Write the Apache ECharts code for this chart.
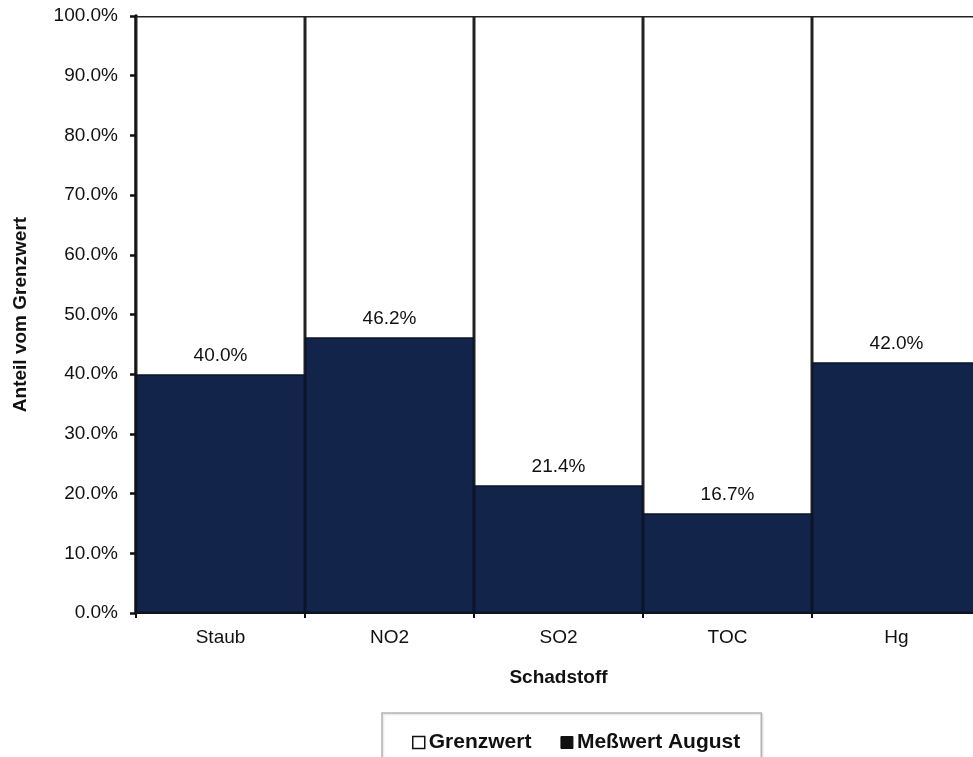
<!DOCTYPE html>
<html>
<head>
<meta charset="utf-8">
<script src="https://cdn.jsdelivr.net/npm/echarts@6/dist/echarts.min.js"></script>
<style>
html,body{margin:0;padding:0;background:#fff;}
#chart{width:973px;height:757px;}
</style>
</head>
<body>
<div id="chart"></div>
<script>
const categories = ['Staub', 'NO2', 'SO2', 'TOC', 'Hg'];
const grenzwert = [100, 100, 100, 100, 100];
const messwertAugust = [40.0, 46.2, 21.4, 16.7, 42.0];
const yTicks = { min: 0, max: 100, interval: 10 };

const FONT = '"Liberation Sans", Arial, sans-serif';
const chart = echarts.init(document.getElementById('chart'));
chart.setOption({
  animation: false,
  backgroundColor: '#fff',
  textStyle: { fontFamily: FONT },
  grid: { left: 136, top: 16, width: 845, height: 597, containLabel: false, outerBoundsMode: 'none' },
  legend: {
    left: 382, top: 713,
    padding: [19, 21, 30, 30],
    itemWidth: 12, itemHeight: 12, itemGap: 29,
    borderColor: '#b5b5b5', borderWidth: 1.5,
    shadowColor: 'rgba(0,0,0,0.15)', shadowBlur: 2, shadowOffsetX: 1, shadowOffsetY: 1,
    backgroundColor: '#fff',
    icon: 'rect',
    textStyle: { fontFamily: FONT, fontSize: 21, fontWeight: 'bold', color: '#111', padding: [0, 0, 0, -1] },
    data: [
      { name: 'Grenzwert', itemStyle: { color: '#fff', borderColor: '#111', borderWidth: 1.5 } },
      { name: 'Meßwert August', itemStyle: { color: '#111', borderColor: '#111', borderWidth: 1 } }
    ]
  },
  xAxis: {
    type: 'category',
    data: categories,
    name: 'Schadstoff',
    nameLocation: 'middle',
    nameGap: 55,
    nameTextStyle: { fontFamily: FONT, fontSize: 19, fontWeight: 'bold', color: '#111' },
    axisLine: { lineStyle: { color: '#111', width: 2 } },
    axisTick: { show: true, alignWithLabel: false, length: 5, lineStyle: { color: '#111', width: 2 } },
    axisLabel: { fontFamily: FONT, fontSize: 19, color: '#111', margin: 15 },
    splitLine: { show: false }
  },
  yAxis: {
    type: 'value',
    min: yTicks.min, max: yTicks.max, interval: yTicks.interval,
    name: 'Anteil vom Grenzwert',
    nameLocation: 'middle',
    nameGap: 106,
    nameRotate: 90,
    nameTextStyle: { fontFamily: FONT, fontSize: 19, fontWeight: 'bold', color: '#111' },
    axisLine: { show: true, lineStyle: { color: '#111', width: 3.5 } },
    axisTick: { show: true, length: 6, lineStyle: { color: '#111', width: 2.5 } },
    axisLabel: { fontFamily: FONT, fontSize: 19, color: '#111', margin: 18,
      formatter: v => v.toFixed(1) + '%' },
    splitLine: { show: false }
  },
  series: [
    {
      name: 'Grenzwert',
      type: 'bar',
      data: grenzwert,
      barCategoryGap: '0%',
      barGap: '-100%',
      itemStyle: { color: '#fff', borderColor: '#222', borderWidth: 1.5 },
      z: 1
    },
    {
      name: 'Meßwert August',
      type: 'bar',
      data: messwertAugust,
      barCategoryGap: '0%',
      barGap: '-100%',
      itemStyle: { color: '#13244a', borderColor: '#0b1428', borderWidth: 1.5 },
      label: {
        show: true, position: 'top', distance: 9,
        fontFamily: FONT, fontSize: 19, color: '#111',
        formatter: p => p.value.toFixed(1) + '%'
      },
      z: 2
    }
  ]
});
</script>
</body>
</html>
